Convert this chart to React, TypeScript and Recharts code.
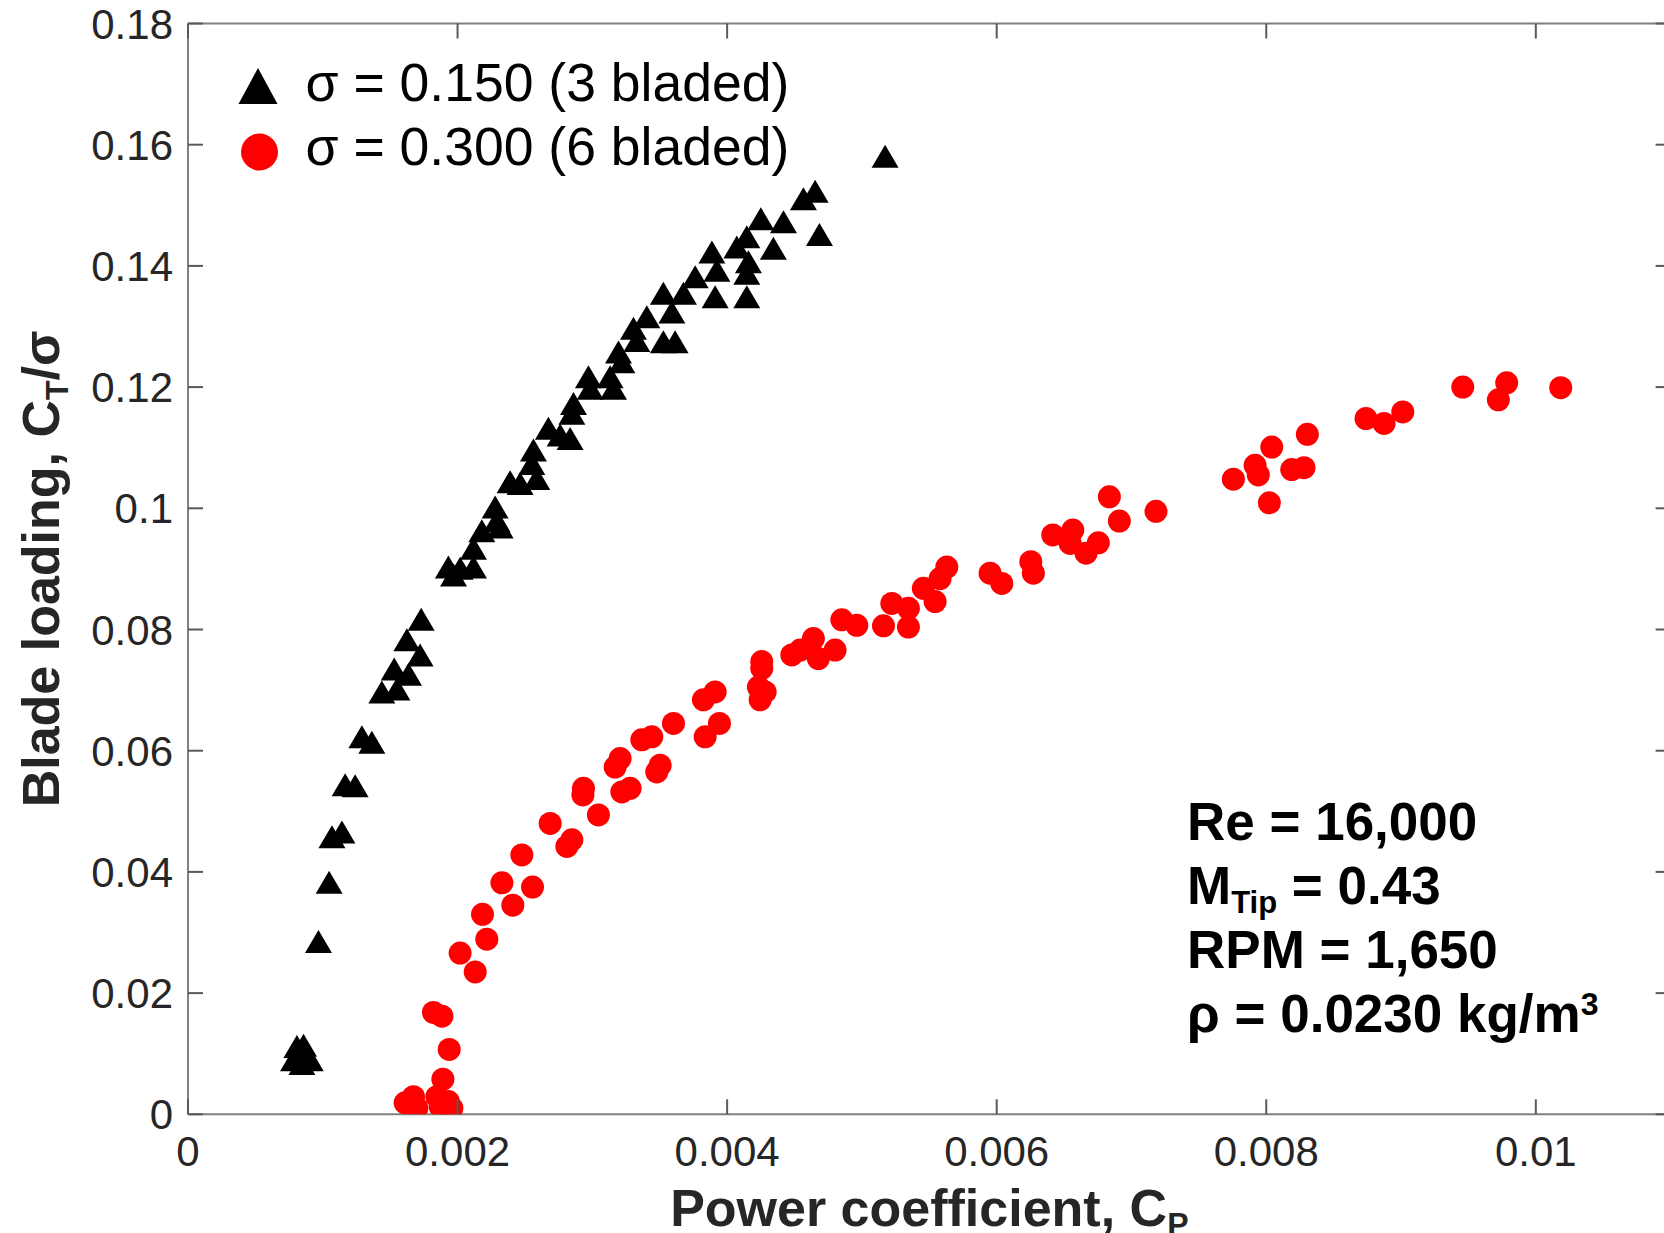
import React from "react";
import { ScatterChart, Scatter, XAxis, YAxis, Legend, Label } from "recharts";

const FONT = '"Liberation Sans", Arial, Helvetica, sans-serif';

// sigma = 0.150 (3 bladed): power coefficient and blade loading
const cp3 = [
  0.000808, 0.000857, 0.000783, 0.000845, 0.000907,
  0.000968, 0.001047, 0.001068, 0.001142, 0.001166, 0.00124, 0.00129, 0.001364,
  0.001438, 0.00155, 0.00153, 0.001636, 0.001624, 0.001722, 0.00173,
  0.00197, 0.001932, 0.002019, 0.002118, 0.002118, 0.00218, 0.002316, 0.002292,
  0.002279, 0.00239, 0.002464, 0.002588, 0.002551, 0.002563, 0.002674, 0.002761,
  0.002835, 0.002848, 0.00286, 0.002971, 0.002984, 0.003132, 0.003157, 0.003194,
  0.003219, 0.003305, 0.00333, 0.003404, 0.003527, 0.003614, 0.00359, 0.003527,
  0.003676, 0.003763, 0.003911, 0.003924, 0.003887, 0.004146, 0.004146, 0.004158,
  0.004072, 0.004146, 0.004343, 0.00425, 0.004418, 0.004566, 0.004653, 0.004685,
  0.005172,
];
const ct3 = [
  0.0112, 0.0114, 0.009, 0.0084, 0.009,
  0.0285, 0.0383, 0.0458, 0.0466, 0.0544, 0.0542, 0.0623, 0.0614,
  0.0697, 0.0702, 0.0735, 0.0726, 0.0783, 0.0758, 0.0817,
  0.089, 0.0903, 0.0901, 0.0903, 0.0934, 0.0963, 0.0969, 0.098,
  0.1002, 0.1044, 0.1041, 0.1049, 0.1074, 0.1096, 0.1132, 0.1121,
  0.1115, 0.1157, 0.1173, 0.1217, 0.1198, 0.1217, 0.1198, 0.1258,
  0.1242, 0.1297, 0.1277, 0.1316, 0.1275, 0.1275, 0.1324, 0.1355,
  0.1355, 0.1382, 0.1349, 0.1393, 0.1423, 0.1349, 0.1388, 0.1407,
  0.1431, 0.1448, 0.1429, 0.1478, 0.1473, 0.1511, 0.1523, 0.1452,
  0.1581,
];

// sigma = 0.300 (6 bladed)
const cp6 = [
  0.001611, 0.001673, 0.001698, 0.001846, 0.001871, 0.001958, 0.001932,
  0.001891, 0.001938, 0.001821, 0.001884, 0.002131, 0.002019, 0.002217, 0.002185,
  0.00241, 0.002556, 0.002329, 0.002477, 0.002811, 0.002848, 0.002687, 0.003045,
  0.00293, 0.002934, 0.003219, 0.00328, 0.003478, 0.003503, 0.003169, 0.003206,
  0.003367, 0.003441, 0.003602, 0.003837, 0.003943, 0.003824, 0.003911,
  0.004245, 0.004282, 0.004232, 0.004257, 0.004257, 0.00448, 0.004542, 0.00464,
  0.004677, 0.004801, 0.004851, 0.004962, 0.00516, 0.005222, 0.005345, 0.005345,
  0.005456, 0.005543, 0.00558, 0.00563, 0.005951, 0.006038,
  0.006253, 0.006272, 0.006416, 0.006565, 0.006545, 0.006663, 0.006754, 0.006836,
  0.00691, 0.007182, 0.007756, 0.007917, 0.007941, 0.008041, 0.008023, 0.008189,
  0.00828, 0.008305,
  0.00874, 0.008874, 0.009013, 0.009458, 0.009784, 0.009722, 0.010185,
];
const ct6 = [
  0.0019, 0.0029, 0.001, 0.0029, 0.0013, 0.001, 0.0021,
  0.0058, 0.0107, 0.0168, 0.0162, 0.0235, 0.0266, 0.0289, 0.033,
  0.0345, 0.0375, 0.0382, 0.0428, 0.0442, 0.0453, 0.048, 0.0494,
  0.0527, 0.0538, 0.0532, 0.0538, 0.0565, 0.0576, 0.0573, 0.0587,
  0.0618, 0.0623, 0.0645, 0.0623, 0.0645, 0.0684, 0.0697,
  0.0684, 0.0697, 0.0705, 0.0736, 0.0747, 0.0758, 0.0766, 0.0785,
  0.0752, 0.0766, 0.0816, 0.0807, 0.0806, 0.0843, 0.0835, 0.0804,
  0.0868, 0.0846, 0.0884, 0.0903, 0.0893, 0.0876,
  0.0912, 0.0893, 0.0956, 0.0964, 0.0942, 0.0926, 0.0943, 0.1019,
  0.0979, 0.0995, 0.1048, 0.1071, 0.1055, 0.1101, 0.1009, 0.1064,
  0.1067, 0.1122,
  0.1148, 0.114, 0.1159, 0.12, 0.1207, 0.1179, 0.1199,
];

const seriesNames = ["σ = 0.150 (3 bladed)", "σ = 0.300 (6 bladed)"];
const seriesColors = ["#000000", "#ff0000"];

const xTicks = [0, 0.002, 0.004, 0.006, 0.008, 0.01];
const xTickLabels = ["0", "0.002", "0.004", "0.006", "0.008", "0.01"];
const yTicks = [0, 0.02, 0.04, 0.06, 0.08, 0.1, 0.12, 0.14, 0.16, 0.18];
const yTickLabels = ["0", "0.02", "0.04", "0.06", "0.08", "0.1", "0.12", "0.14", "0.16", "0.18"];

const annotationLines = ["Re = 16,000", " = 0.43", "RPM = 1,650", "ρ = 0.0230 kg/m"];

const data3 = cp3.map((x, i) => ({ x, y: ct3[i] }));
const data6 = cp6.map((x, i) => ({ x, y: ct6[i] }));

const TICK_COLOR = "#5a5a5a";
const AXIS_COLOR = "#808080";
const TEXT_COLOR = "#262626";
const TICK_LEN = 15;
const TICK_FS = 42;

const BottomTick = (p: any) => {
  const { x, y, index } = p;
  return (
    <g>
      <line x1={x} x2={x} y1={y} y2={y - TICK_LEN} stroke={TICK_COLOR} strokeWidth={2} />
      <text x={x} y={y + 52} textAnchor="middle" fontSize={TICK_FS} fontFamily={FONT} fill={TEXT_COLOR}>
        {xTickLabels[index]}
      </text>
    </g>
  );
};
const TopTick = (p: any) => {
  const { x, y } = p;
  return <line x1={x} x2={x} y1={y} y2={y + TICK_LEN} stroke={TICK_COLOR} strokeWidth={2} />;
};
const LeftTick = (p: any) => {
  const { x, y, index } = p;
  return (
    <g>
      <line x1={x} x2={x + TICK_LEN} y1={y} y2={y} stroke={TICK_COLOR} strokeWidth={2} />
      <text x={x - 15} y={y + TICK_FS * 0.358} textAnchor="end" fontSize={TICK_FS} fontFamily={FONT} fill={TEXT_COLOR}>
        {yTickLabels[index]}
      </text>
    </g>
  );
};
const RightTick = (p: any) => {
  const { x, y } = p;
  return <line x1={x} x2={x - TICK_LEN} y1={y} y2={y} stroke={TICK_COLOR} strokeWidth={2} />;
};

const Triangle = (p: any) => {
  const { cx, cy } = p;
  if (cx == null || cy == null) return null;
  const w = 13.5;
  const h = 11.5;
  return <polygon points={`${cx},${cy - h} ${cx - w},${cy + h} ${cx + w},${cy + h}`} fill="#000000" />;
};
const Dot = (p: any) => {
  const { cx, cy } = p;
  if (cx == null || cy == null) return null;
  return <circle cx={cx} cy={cy} r={11.5} fill="#ff0000" />;
};

const XTitle = (p: any) => {
  const vb = p.viewBox || {};
  const cx = vb.x + vb.width / 2;
  const y = vb.y + 111.4;
  return (
    <text x={cx} y={y} textAnchor="middle" fontSize={52} fontWeight="bold" fontFamily={FONT} fill={TEXT_COLOR}>
      Power coefficient, C
      <tspan fontSize={32} dy={9}>P</tspan>
    </text>
  );
};
const YTitle = (p: any) => {
  const vb = p.viewBox || {};
  const cy = vb.y + vb.height / 2;
  const x = 59.3;
  return (
    <text
      x={x}
      y={cy}
      transform={`rotate(-90 ${x} ${cy})`}
      textAnchor="middle"
      fontSize={52}
      fontWeight="bold"
      fontFamily={FONT}
      fill={TEXT_COLOR}
    >
      Blade loading, C
      <tspan fontSize={32} dy={9}>T</tspan>
      <tspan dy={-9}>/σ</tspan>
    </text>
  );
};

const LegendContent = (props: any) => {
  const payload = props.payload || [];
  return (
    <svg width={560} height={130} style={{ display: "block", overflow: "visible" }}>
      {payload.map((item: any, i: number) => {
        const cy = i === 0 ? 36 : 102;
        const base = i === 0 ? 51 : 115;
        return (
          <g key={i}>
            {i === 0 ? (
              <polygon points={`28,${cy - 18} 8.5,${cy + 18} 47.5,${cy + 18}`} fill={seriesColors[0]} />
            ) : (
              <circle cx={29.5} cy={cy} r={18.5} fill={seriesColors[1]} />
            )}
            <text x={75.6} y={base} fontSize={53.5} fontFamily={FONT} fill="#000000">
              {item.value}
            </text>
          </g>
        );
      })}
    </svg>
  );
};

export default function App() {
  const ann = { x: 1187, fs: 53 };
  return (
    <div
      style={{
        position: "absolute",
        left: 0,
        top: 0,
        width: 1664,
        height: 1233,
        overflow: "hidden",
        background: "#ffffff",
      }}
    >
      <ScatterChart width={1700} height={1233} margin={{ top: 22.5, right: 28.4, bottom: 0, left: 0 }}>
        <XAxis
          xAxisId="b"
          dataKey="x"
          type="number"
          domain={[0, 0.011]}
          allowDataOverflow
          ticks={xTicks}
          interval={0}
          height={118.7}
          tickSize={0}
          tickMargin={0}
          tickLine={false}
          axisLine={{ stroke: AXIS_COLOR, strokeWidth: 2 }}
          tick={BottomTick}
        >
          <Label content={XTitle} />
        </XAxis>
        <XAxis
          xAxisId="t"
          orientation="top"
          dataKey="x"
          type="number"
          domain={[0, 0.011]}
          allowDataOverflow
          ticks={xTicks}
          interval={0}
          height={1}
          tickSize={0}
          tickMargin={0}
          tickLine={false}
          axisLine={{ stroke: AXIS_COLOR, strokeWidth: 2 }}
          tick={TopTick}
        />
        <YAxis
          yAxisId="l"
          dataKey="y"
          type="number"
          domain={[0, 0.18]}
          allowDataOverflow
          ticks={yTicks}
          interval={0}
          width={188}
          tickSize={0}
          tickMargin={0}
          tickLine={false}
          axisLine={{ stroke: AXIS_COLOR, strokeWidth: 2 }}
          tick={LeftTick}
        >
          <Label content={YTitle} />
        </YAxis>
        <YAxis
          yAxisId="r"
          orientation="right"
          dataKey="y"
          type="number"
          domain={[0, 0.18]}
          allowDataOverflow
          ticks={yTicks}
          interval={0}
          width={1}
          tickSize={0}
          tickMargin={0}
          tickLine={false}
          axisLine={{ stroke: AXIS_COLOR, strokeWidth: 2 }}
          tick={RightTick}
        />
        <Legend
          layout="vertical"
          align="center"
          verticalAlign="middle"
          content={LegendContent}
          wrapperStyle={{ position: "absolute", left: 230, top: 50, width: 560, height: 130 }}
        />
        <Scatter
          name={seriesNames[0]}
          data={data3}
          xAxisId="b"
          yAxisId="l"
          fill={seriesColors[0]}
          shape={Triangle}
          isAnimationActive={false}
        />
        <Scatter
          name={seriesNames[1]}
          data={data6}
          xAxisId="b"
          yAxisId="l"
          fill={seriesColors[1]}
          shape={Dot}
          isAnimationActive={false}
        />
      </ScatterChart>
      <svg
        width={1664}
        height={1233}
        style={{ position: "absolute", left: 0, top: 0, pointerEvents: "none" }}
      >
        <g fontFamily={FONT} fontWeight="bold" fontSize={ann.fs} fill="#000000">
          <text x={ann.x} y={840}>{annotationLines[0]}</text>
          <text x={ann.x} y={904}>
            M<tspan fontSize={31} dy={9}>Tip</tspan>
            <tspan dy={-9}>{annotationLines[1]}</tspan>
          </text>
          <text x={ann.x} y={968}>{annotationLines[2]}</text>
          <text x={ann.x} y={1031.5}>
            {annotationLines[3]}
            <tspan fontSize={32} dy={-17}>3</tspan>
          </text>
        </g>
      </svg>
    </div>
  );
}
